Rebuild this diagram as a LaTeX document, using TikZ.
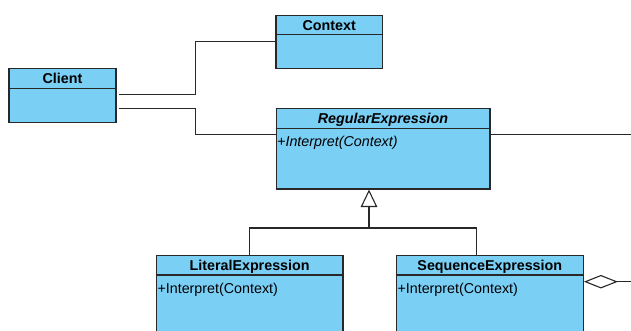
\documentclass[tikz,border=0pt]{standalone}
\usepackage{fontspec}
\setmainfont{Liberation Sans}
\usetikzlibrary{arrows.meta,calc}
\definecolor{classfill}{RGB}{122,207,245}
\definecolor{edge}{RGB}{40,40,40}
\begin{document}
\begin{tikzpicture}[x=1pt,y=-1pt,
  classbox/.style={draw=edge,line width=1.2pt,fill=classfill,rectangle,anchor=north west,inner sep=0pt},
  headtext/.style={font=\fontsize{14.3}{16}\selectfont\bfseries,inner sep=0pt,anchor=base},
  optext/.style={font=\fontsize{14.3}{16}\selectfont,inner sep=0pt,anchor=base west},
  conn/.style={draw=edge,line width=1.1pt}]
\clip (0,0) rectangle (631,331);
\fill[white] (0,0) rectangle (631,331);

% classes
\node[classbox,minimum width=106.7pt,minimum height=53.3pt] (ctx) at (275.3,14.7) {};
\node[classbox,minimum width=107pt,minimum height=53.7pt] (cli) at (8.3,68) {};
\node[classbox,minimum width=213.8pt,minimum height=80.3pt] (re) at (275.5,108) {};
\node[classbox,minimum width=186.6pt,minimum height=100pt] (lit) at (155.7,255) {};
\node[classbox,minimum width=187pt,minimum height=100pt] (seq) at (395.7,255) {};

% header dividers
\draw[edge,line width=1.2pt] ([yshift=-19.6pt]ctx.north west) -- ([yshift=-19.6pt]ctx.north east);
\draw[edge,line width=1.2pt] ([yshift=-20.3pt]cli.north west) -- ([yshift=-20.3pt]cli.north east);
\draw[edge,line width=1.2pt] ([yshift=-20.3pt]re.north west) -- ([yshift=-20.3pt]re.north east);
\draw[edge,line width=1.2pt] ([yshift=-20pt]lit.north west) -- ([yshift=-20pt]lit.north east);
\draw[edge,line width=1.2pt] ([yshift=-20pt]seq.north west) -- ([yshift=-20pt]seq.north east);

% class names
\node[headtext] (ctxname) at ([yshift=-15.4pt]ctx.north) {Context};
\node[headtext] (cliname) at ([yshift=-15.4pt]cli.north) {Client};
\node[headtext,font=\fontsize{14.3}{16}\selectfont\bfseries\itshape] (rename) at ([yshift=-15.4pt]re.north) {RegularExpression};
\node[headtext] (litname) at ([yshift=-15.8pt]lit.north) {LiteralExpression};
\node[headtext] (seqname) at ([yshift=-15.8pt]seq.north) {SequenceExpression};

% operations
\node[optext,font=\fontsize{14.3}{16}\selectfont\itshape] (reop) at ([xshift=1.5pt,yshift=-38.6pt]re.north west) {+Interpret(Context)};
\node[optext] (litop) at ([xshift=1.6pt,yshift=-38.8pt]lit.north west) {+Interpret(Context)};
\node[optext] (seqop) at ([xshift=1.6pt,yshift=-38.8pt]seq.north west) {+Interpret(Context)};

% associations from Client
\draw[conn] ([shift={(2,26.7)}]cli.north east) -| (195.3,41.3) -- ([yshift=-26.6pt]ctx.north west);
\draw[conn] ([shift={(2,40.3)}]cli.north east) -| (195.3,134.7) -- ([yshift=-26.7pt]re.north west);

% association leaving RegularExpression
\coordinate (reout) at (631,134.3);
\draw[conn] ([yshift=-26.3pt]re.north east) -- (reout);

% generalization
\coordinate (jn) at (369,228);
\draw[conn] (lit.north) |- (jn) -| ([xshift=-13.5pt]seq.north);
\draw[conn,-{Triangle[open,length=17.5pt,width=16.5pt,fill=white]}] (jn) -- (re.south -| jn);

% aggregation on SequenceExpression
\coordinate (seqout) at (631,281.7);
\draw[conn,{Diamond[open,length=34pt,width=13.5pt,fill=white]}-] ([yshift=-26.7pt]seq.north east) -- (seqout);
\end{tikzpicture}
\end{document}
